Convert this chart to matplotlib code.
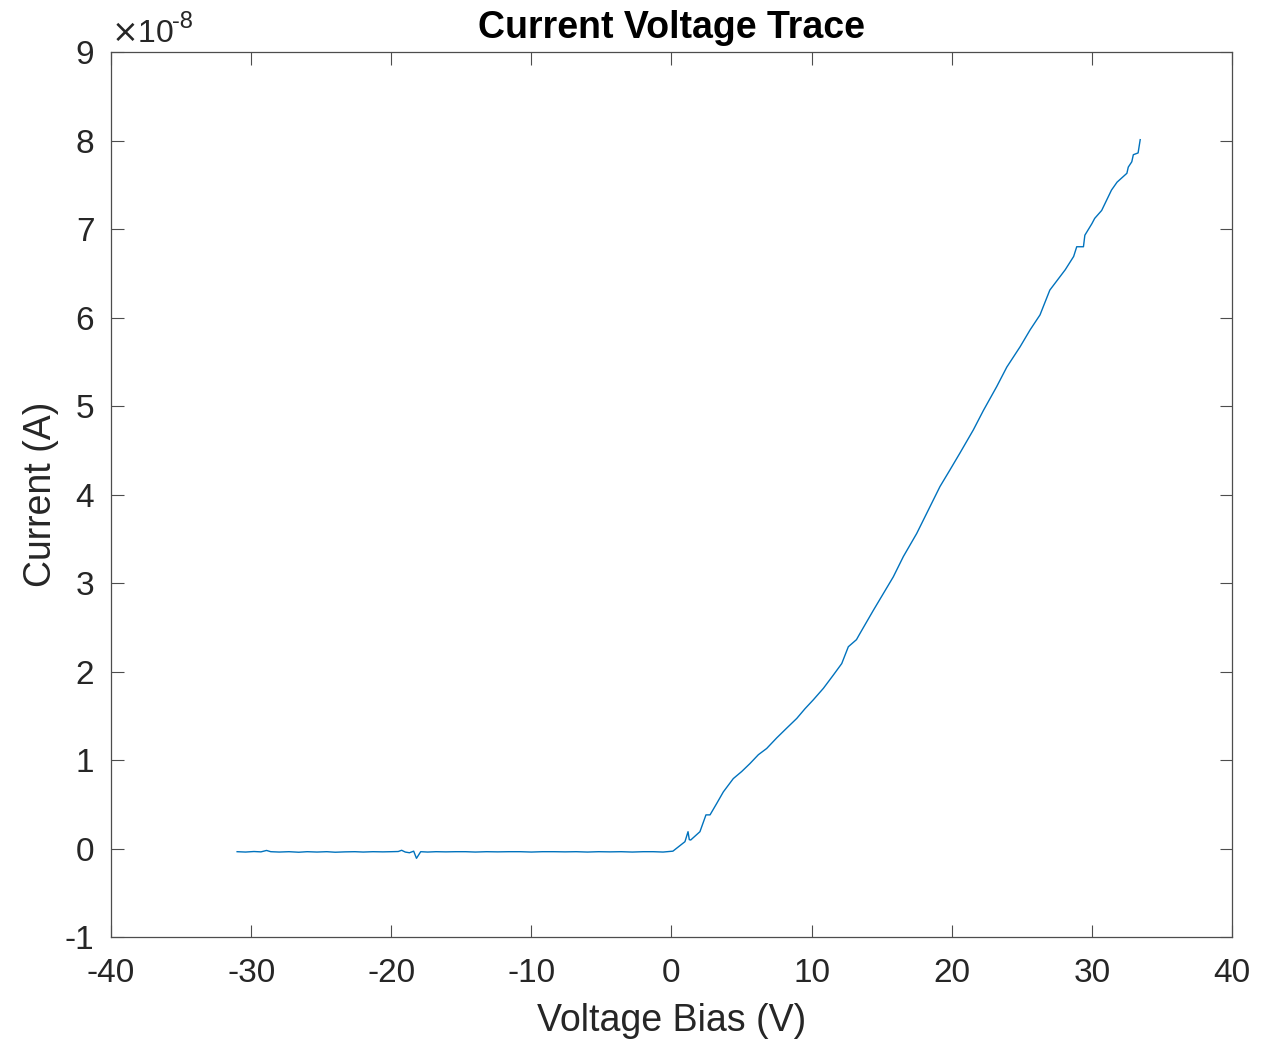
import matplotlib.pyplot as plt

# current in units of 1e-8 A
bias_flat = [-31.0, -30.4, -29.8, -29.3, -28.9, -28.6, -28.0, -27.3, -26.6, -26.0,
             -25.3, -24.6, -24.0, -23.3, -22.6, -22.0, -21.3, -20.6, -20.0, -19.5,
             -19.26, -19.0, -18.7, -18.4, -18.2, -17.9, -17.4, -16.8, -16.1, -15.4,
             -14.7, -14.0, -13.2, -12.4, -11.6, -10.8, -10.0, -9.2, -8.4, -7.6,
             -6.8, -6.0, -5.2, -4.4, -3.6, -2.8, -2.0, -1.3, -0.6, 0.1]
current_flat = [-0.036, -0.040, -0.034, -0.038, -0.022, -0.036, -0.040, -0.036, -0.042, -0.036,
                -0.040, -0.036, -0.042, -0.038, -0.036, -0.040, -0.036, -0.038, -0.036, -0.034,
                -0.020, -0.040, -0.048, -0.030, -0.111, -0.036, -0.040, -0.036, -0.038, -0.036,
                -0.036, -0.040, -0.036, -0.038, -0.036, -0.036, -0.040, -0.036, -0.036, -0.038,
                -0.036, -0.040, -0.036, -0.038, -0.036, -0.040, -0.036, -0.036, -0.040, -0.030]

bias_ramp = [0.96, 1.18, 1.27, 1.37, 2.03, 2.46, 2.75, 3.23, 3.70, 4.41,
             5.01, 5.60, 6.20, 6.79, 7.51, 8.22, 8.94, 9.53, 10.12, 10.84,
             11.55, 12.15, 12.62, 13.2, 13.45, 14.40, 15.83, 16.55, 17.50, 18.22,
             19.16, 19.88, 20.59, 21.54, 22.26, 23.21, 23.93, 24.88, 25.59, 26.3,
             27.0, 28.1, 28.7, 28.92, 29.4, 29.5, 30.0, 30.2, 30.7, 31.4,
             31.8, 32.5, 32.6, 32.85, 32.96, 33.3, 33.45]
current_ramp = [0.077, 0.19, 0.10, 0.096, 0.19, 0.38, 0.38, 0.51, 0.64, 0.79,
                0.87, 0.96, 1.06, 1.13, 1.25, 1.36, 1.47, 1.58, 1.68, 1.81,
                1.96, 2.09, 2.28, 2.36, 2.43, 2.69, 3.07, 3.30, 3.56, 3.79,
                4.09, 4.28, 4.47, 4.73, 4.95, 5.22, 5.44, 5.67, 5.86, 6.03,
                6.31, 6.54, 6.69, 6.80, 6.80, 6.93, 7.06, 7.12, 7.21, 7.44,
                7.53, 7.63, 7.70, 7.76, 7.84, 7.86, 8.01]

bias = bias_flat + bias_ramp
current = current_flat + current_ramp

plt.rcParams['font.family'] = ['Liberation Sans', 'DejaVu Sans']
plt.rcParams['axes.unicode_minus'] = False
dark = '#262626'
axcol = '#4d4d4d'

fig = plt.figure(figsize=(12.76, 10.41), dpi=100)
ax = fig.add_axes([0.087, 0.0999, 0.8785, 0.8501])
ax.plot(bias, current, color='#0072BD', linewidth=1.0)

ax.set_xlim(-40, 40)
ax.set_ylim(-1, 9)
ax.set_xticks(range(-40, 41, 10))
ax.set_yticks(range(-1, 10))
ax.tick_params(direction='in', length=9, width=0.8, top=True, right=True,
               labelsize=24, colors=axcol, labelcolor=dark)
ax.tick_params(axis='x', pad=15)
ax.tick_params(axis='y', pad=12)
for s in ax.spines.values():
    s.set_color(axcol)
    s.set_linewidth(0.9)

ax.set_xlabel('Voltage Bias (V)', fontsize=27, color=dark, labelpad=10)
ax.set_ylabel('Current (A)', fontsize=27, color=dark, labelpad=4)
ax.set_title('Current Voltage Trace', fontsize=27, fontweight='bold', color='black', pad=10)

# exponent label, MATLAB style
ax.text(0.0, 1.004, r'$\times$10', transform=ax.transAxes,
        fontsize=23, color=dark, ha='left', va='bottom')
ax.text(0.0545, 1.022, '-8', transform=ax.transAxes,
        fontsize=17, color=dark, ha='left', va='bottom')

fig.savefig('out.png', dpi=100)
